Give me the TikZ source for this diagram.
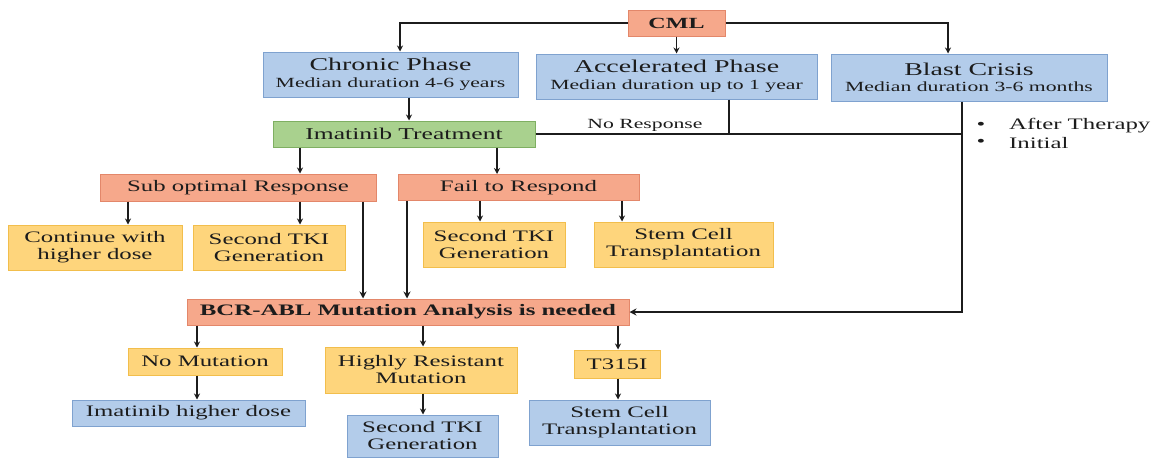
\documentclass[tikz,border=0pt]{standalone}
\usepackage{fontspec}
\setmainfont{Liberation Serif}[FakeStretch=1.55]
\usetikzlibrary{arrows.meta,calc}
\definecolor{bluefill}{HTML}{B3CCEA}
\definecolor{blueline}{HTML}{7FA2CF}
\definecolor{orangefill}{HTML}{F6A88B}
\definecolor{orangeline}{HTML}{E3876A}
\definecolor{greenfill}{HTML}{A9D18E}
\definecolor{greenline}{HTML}{7FAF62}
\definecolor{yellowfill}{HTML}{FED57C}
\definecolor{yellowline}{HTML}{F2BE4C}
\definecolor{ink}{HTML}{1C1C1C}
\begin{document}
\begin{tikzpicture}[x=1pt,y=-1pt,
  box/.style={draw, line width=1pt, inner sep=0pt, align=center, text=ink,
    font=\fontsize{16}{17}\selectfont},
  bluebox/.style={box, fill=bluefill, draw=blueline},
  orangebox/.style={box, fill=orangefill, draw=orangeline},
  greenbox/.style={box, fill=greenfill, draw=greenline},
  yellowbox/.style={box, fill=yellowfill, draw=yellowline},
  phase/.style={bluebox, font=\fontsize{14}{16.5}\selectfont},
  arr/.style={draw=ink, line width=1.3pt, -{Stealth[length=6pt,width=6pt]}},
  thick arr/.style={draw=ink, line width=2.8pt, -{Stealth[length=7pt,width=7pt]}},
  thickline/.style={draw=ink, line width=2.8pt},
  plain/.style={text=ink, inner sep=0pt},
]
\useasboundingbox (0,0) rectangle (1155,458);

% nodes
\node[orangebox, minimum width=97pt, minimum height=26pt, font=\fontsize{15.5}{17}\selectfont\bfseries] (cml) at (676.5,23) {CML};
\node[phase, minimum width=255pt, minimum height=45pt] (chronic) at (390.5,74.5)
  {{\fontsize{18}{18}\selectfont Chronic Phase}\\Median duration 4-6 years};
\node[phase, minimum width=281pt, minimum height=45pt] (accel) at (676.5,76.5)
  {{\fontsize{18}{18}\selectfont Accelerated Phase}\\Median duration up to 1 year};
\node[phase, minimum width=276pt, minimum height=47pt] (blast) at (969,77.5)
  {{\fontsize{18}{18}\selectfont Blast Crisis}\\Median duration 3-6 months};
\node[greenbox, minimum width=262pt, minimum height=26pt, font=\fontsize{16.5}{18}\selectfont] (imatinib) at (404,134) {Imatinib Treatment};
\node[orangebox, minimum width=276pt, minimum height=27pt] (sub) at (238,187.5) {Sub optimal Response};
\node[orangebox, minimum width=241pt, minimum height=26pt] (fail) at (518.5,187.5) {Fail to Respond};
\node[yellowbox, minimum width=174pt, minimum height=45pt] (cont) at (95,247.5) {Continue with\\higher dose};
\node[yellowbox, minimum width=152pt, minimum height=45pt] (tkia) at (269,247.5) {Second TKI\\Generation};
\node[yellowbox, minimum width=142pt, minimum height=45pt] (tkib) at (494,244.5) {Second TKI\\Generation};
\node[yellowbox, minimum width=179pt, minimum height=45pt] (stema) at (683.5,244.5) {Stem Cell\\Transplantation};
\node[orangebox, minimum width=442pt, minimum height=26pt, font=\fontsize{16}{17}\selectfont\bfseries] (bcr) at (408,312) {BCR-ABL Mutation Analysis is needed};
\node[yellowbox, minimum width=154pt, minimum height=27pt] (nomut) at (205,361.5) {No Mutation};
\node[yellowbox, minimum width=192pt, minimum height=46pt] (highly) at (421,370) {Highly Resistant\\Mutation};
\node[yellowbox, minimum width=86pt, minimum height=28pt] (tmut) at (617,364) {T315I};
\node[bluebox, minimum width=233pt, minimum height=26pt] (imhd) at (188.5,413) {Imatinib higher dose};
\node[bluebox, minimum width=151pt, minimum height=42pt] (tkic) at (422.5,436) {Second TKI\\Generation};
\node[bluebox, minimum width=181pt, minimum height=45pt] (stemb) at (619.5,422.5) {Stem Cell\\Transplantation};

% labels
\node[plain, font=\fontsize{14}{16}\selectfont] (noresp) at (645,125) {No Response};
\node[plain, font=\fontsize{16}{17}\selectfont] (bula) at (981,126) {\textbullet};
\node[plain, font=\fontsize{16}{17}\selectfont] (bulb) at (981,143) {\textbullet};
\node[plain, anchor=west, font=\fontsize{16}{17}\selectfont] (after) at (1009,126) {After Therapy};
\node[plain, anchor=west, font=\fontsize{16}{17}\selectfont] (initial) at (1009,143) {Initial};

% helper coordinates
\coordinate (x128) at (128,0);
\coordinate (x197) at (197,0);
\coordinate (x300) at (300,0);
\coordinate (x363) at (363,0);
\coordinate (x400) at (400,0);
\coordinate (x407) at (407,0);
\coordinate (x409) at (409,0);
\coordinate (x423) at (423,0);
\coordinate (x480) at (480,0);
\coordinate (x497) at (497,0);
\coordinate (x618) at (618,0);
\coordinate (x622) at (622,0);
\coordinate (x729) at (729,0);
\coordinate (x948) at (948,0);
\coordinate (x962) at (962,0);
\coordinate (junction) at (962,134);

% connectors from CML
\draw[arr] (cml.west) -| (chronic.north -| x400);
\draw[arr] (cml.east) -| (blast.north -| x948);
\draw[arr] (cml.south) -- (accel.north);
\draw[arr] (chronic.south -| x409) -- (imatinib.north -| x409);

% no response lines
\draw[thickline] (imatinib.east) -- (junction);
\draw[thickline] (accel.south -| x729) -- (imatinib.east -| x729);
\draw[thick arr] (blast.south -| x962) -- (junction) |- (bcr.east);

% imatinib outcomes
\draw[arr] (imatinib.south -| x300) -- (sub.north -| x300);
\draw[arr] (imatinib.south -| x497) -- (fail.north -| x497);
\draw[arr] (sub.south -| x128) -- (cont.north -| x128);
\draw[arr] (sub.south -| x300) -- (tkia.north -| x300);
\draw[thick arr] (sub.south -| x363) -- (bcr.north -| x363);
\draw[thick arr] (fail.south -| x407) -- (bcr.north -| x407);
\draw[arr] (fail.south -| x480) -- (tkib.north -| x480);
\draw[arr] (fail.south -| x622) -- (stema.north -| x622);

% mutation analysis
\draw[arr] (bcr.south -| x197) -- (nomut.north -| x197);
\draw[arr] (bcr.south -| x423) -- (highly.north -| x423);
\draw[arr] (bcr.south -| x618) -- (tmut.north -| x618);
\draw[arr] (nomut.south -| x197) -- (imhd.north -| x197);
\draw[arr] (highly.south -| x423) -- (tkic.north -| x423);
\draw[arr] (tmut.south -| x618) -- (stemb.north -| x618);
\end{tikzpicture}
\end{document}
